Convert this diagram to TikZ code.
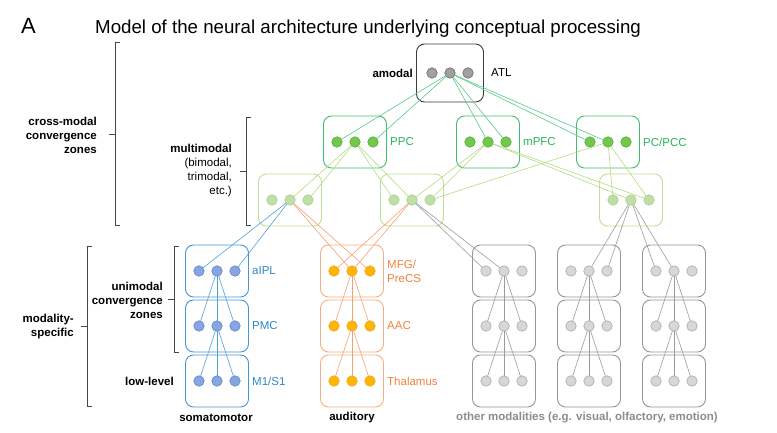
\documentclass[tikz,border=0pt]{standalone}
\usepackage{fontspec}
\setmainfont{Liberation Sans}
\usetikzlibrary{positioning}

% colours per level: box outline, dot fill, dot rim
\definecolor{amBox}{RGB}{60,60,60}
\definecolor{amDot}{RGB}{160,160,160}
\definecolor{amRim}{RGB}{105,105,105}
\definecolor{mgBox}{RGB}{65,190,110}
\definecolor{mgDot}{RGB}{115,200,75}
\definecolor{mgRim}{RGB}{80,175,60}
\definecolor{lgBox}{RGB}{190,225,150}
\definecolor{lgDot}{RGB}{192,222,168}
\definecolor{lgRim}{RGB}{165,210,135}
\definecolor{smBox}{RGB}{70,150,215}
\definecolor{smDot}{RGB}{135,165,225}
\definecolor{smRim}{RGB}{95,135,205}
\definecolor{auBox}{RGB}{245,175,130}
\definecolor{auDot}{RGB}{255,182,0}
\definecolor{auRim}{RGB}{240,160,40}
\definecolor{grBox}{RGB}{150,150,150}
\definecolor{grDot}{RGB}{215,215,215}
\definecolor{grRim}{RGB}{170,170,170}
% connector and text colours
\definecolor{amLine}{RGB}{85,200,135}
\definecolor{mgLine}{RGB}{178,220,125}
\definecolor{smLine}{RGB}{80,160,220}
\definecolor{auLine}{RGB}{245,160,110}
\definecolor{grLine}{RGB}{155,155,155}
\definecolor{mgText}{RGB}{40,180,90}
\definecolor{smText}{RGB}{45,135,200}
\definecolor{auText}{RGB}{240,130,60}
\definecolor{grText}{RGB}{140,140,140}
\definecolor{brk}{RGB}{70,70,70}

\newcommand{\lblfont}{\fontsize{11.5}{14}\selectfont}

% box with three units: name, x, y, colour set
\newcommand{\cluster}[5][]{%
  \node[box, draw=#5Box, #1] (#2) at (#3,#4) {};
  \node[dot, fill=#5Dot, draw=#5Rim] (#2-m) at (#2) {};
  \node[dot, fill=#5Dot, draw=#5Rim, left=7.5pt of #2-m] (#2-l) {};
  \node[dot, fill=#5Dot, draw=#5Rim, right=7.5pt of #2-m] (#2-r) {};
}

\tikzset{
  box/.style={rounded corners=8pt, minimum width=63pt, minimum height=52pt, line width=0.9pt},
  dot/.style={circle, minimum size=10.5pt, inner sep=0pt, outer sep=0pt, line width=0.6pt},
  link/.style={line width=0.6pt},
  lbl/.style={font=\lblfont, anchor=west, inner sep=0pt},
  side/.style={font=\lblfont\bfseries, align=right, anchor=east, inner sep=0pt},
  brace/.style={draw=brk, line width=0.8pt}
}

\begin{document}
\begin{tikzpicture}[x=1pt, y=-1pt]
  \useasboundingbox (0,0) rectangle (777,433);

  % titulo
  \node[anchor=base west, inner sep=0pt, font=\fontsize{22}{26}\selectfont] (panel) at (21,34) {A};
  \node[anchor=base west, inner sep=0pt, font=\fontsize{18.7}{22}\selectfont] (title) at (95,34)
    {Model of the neural architecture underlying conceptual processing};

  % amodal
  \cluster[minimum width=67pt, minimum height=58pt]{atl}{450}{73}{am}
  \node[side] (amodal) at (413,73) {amodal};
  \node[lbl] (atlname) at (491,73) {ATL};

  % multimodal
  \cluster{ppc}{355}{142}{mg}
  \cluster{mpfc}{488}{142}{mg}
  \cluster{pcc}{608}{142}{mg}
  \node[lbl, mgText] (ppcname) at (390,142) {PPC};
  \node[lbl, mgText] (mpfcname) at (523,142) {mPFC};
  \node[lbl, mgText] (pccname) at (643,142) {PC/PCC};

  % bimodal, trimodal
  \cluster{bia}{290}{200}{lg}
  \cluster{bib}{412}{200}{lg}
  \cluster{bic}{631}{200}{lg}

  % modality-specific columns
  \cluster{som1}{217}{271}{sm}
  \cluster{som2}{217}{326}{sm}
  \cluster{som3}{217}{381}{sm}
  \cluster{aud1}{352}{271}{au}
  \cluster{aud2}{352}{326}{au}
  \cluster{aud3}{352}{381}{au}
  \cluster{g11}{504}{271}{gr}
  \cluster{g12}{504}{326}{gr}
  \cluster{g13}{504}{381}{gr}
  \cluster{g21}{589}{271}{gr}
  \cluster{g22}{589}{326}{gr}
  \cluster{g23}{589}{381}{gr}
  \cluster{g31}{674}{271}{gr}
  \cluster{g32}{674}{326}{gr}
  \cluster{g33}{674}{381}{gr}

  \node[lbl, smText] (aipl) at (252,271) {aIPL};
  \node[lbl, smText] (pmc) at (252,326) {PMC};
  \node[lbl, smText] (m1s1) at (252,381) {M1/S1};
  \node[lbl, auText, align=left] (mfg) at (387,271) {MFG/\\PreCS};
  \node[lbl, auText] (aac) at (387,326) {AAC};
  \node[lbl, auText] (thal) at (387,381) {Thalamus};

  % ATL hacia multimodal
  \draw[link, amLine] (atl-m) -- (ppc-l);
  \draw[link, amLine] (atl-m) -- (ppc-r);
  \draw[link, amLine] (atl-m) -- (mpfc-m);
  \draw[link, amLine] (atl-m) -- (mpfc-r);
  \draw[link, amLine] (atl-m) -- (pcc-l);
  \draw[link, amLine] (atl-m) -- (pcc-m);

  % multimodal hacia bimodal
  \draw[link, mgLine] (ppc-m) -- (bia-m);
  \draw[link, mgLine] (ppc-m) -- (bia-r);
  \draw[link, mgLine] (ppc-m) -- (bib-l);
  \draw[link, mgLine] (ppc-m) -- (bib-m);
  \draw[link, mgLine] (mpfc-m) -- (bib-m);
  \draw[link, mgLine] (mpfc-m) -- (bib-r);
  \draw[link, mgLine] (mpfc-m) -- (bic-m);
  \draw[link, mgLine] (mpfc-m) -- (bic-r);
  \draw[link, mgLine] (pcc-m) -- (bib-r);
  \draw[link, mgLine] (pcc-m) -- (bic-l);
  \draw[link, mgLine] (pcc-m) -- (bic-r);

  % bimodal hacia unimodal
  \draw[link, smLine] (bia-m) -- (som1-l);
  \draw[link, smLine] (bia-m) -- (som1-r);
  \draw[link, auLine] (bia-m) -- (aud1-m);
  \draw[link, auLine] (bia-m) -- (aud1-r);
  \draw[link, auLine] (bib-m) -- (aud1-l);
  \draw[link, auLine] (bib-m) -- (aud1-m);
  \draw[link, grLine] (bib-m) -- (g11-l);
  \draw[link, grLine] (bib-m) -- (g11-m);
  \draw[link, grLine] (bic-m) -- (g21-m);
  \draw[link, grLine] (bic-m) -- (g21-r);
  \draw[link, grLine] (bic-m) -- (g31-l);
  \draw[link, grLine] (bic-m) -- (g31-m);

  % dentro de cada columna
  \foreach \c/\k in {som/smLine, aud/auLine, g1/grLine, g2/grLine, g3/grLine}
    \foreach \a/\b in {1/2, 2/3}
      \foreach \d in {l,m,r}
        \draw[link, \k] (\c\a-m) -- (\c\b-\d);

  % llaves de la izquierda
  \draw[brace] (120,42) -- (115,42) -- (115,225) -- (120,225);
  \draw[brace] (115,134) -- (109,134);
  \node[side] (crossmodal) at (97,135) {cross-modal\\convergence\\zones};

  \draw[brace] (251,117) -- (246,117) -- (246,225) -- (251,225);
  \draw[brace] (246,171) -- (240,171);
  \node[side, font=\lblfont, align=right] (multimodal) at (232,171)
    {\textbf{multimodal}\\(bimodal,\\trimodal,\\etc.)};

  \draw[brace] (92,246) -- (87,246) -- (87,406) -- (92,406);
  \draw[brace] (87,326) -- (81,326);
  \node[side] (modspec) at (74,327) {modality-\\specific};

  \draw[brace] (179,246) -- (174,246) -- (174,352) -- (179,352);
  \draw[brace] (174,299) -- (168,299);
  \node[side] (unimodal) at (163,300) {unimodal\\convergence\\zones};

  \node[side] (lowlevel) at (174,381) {low-level};

  % nombres de las modalidades
  \node[font=\lblfont\bfseries, inner sep=0pt] (somname) at (216,418) {somatomotor};
  \node[font=\lblfont\bfseries, inner sep=0pt] (audname) at (352,418) {auditory};
  \node[font=\lblfont\bfseries, grText, inner sep=0pt] (othername) at (587,418)
    {other modalities (e.g. visual, olfactory, emotion)};
\end{tikzpicture}
\end{document}
